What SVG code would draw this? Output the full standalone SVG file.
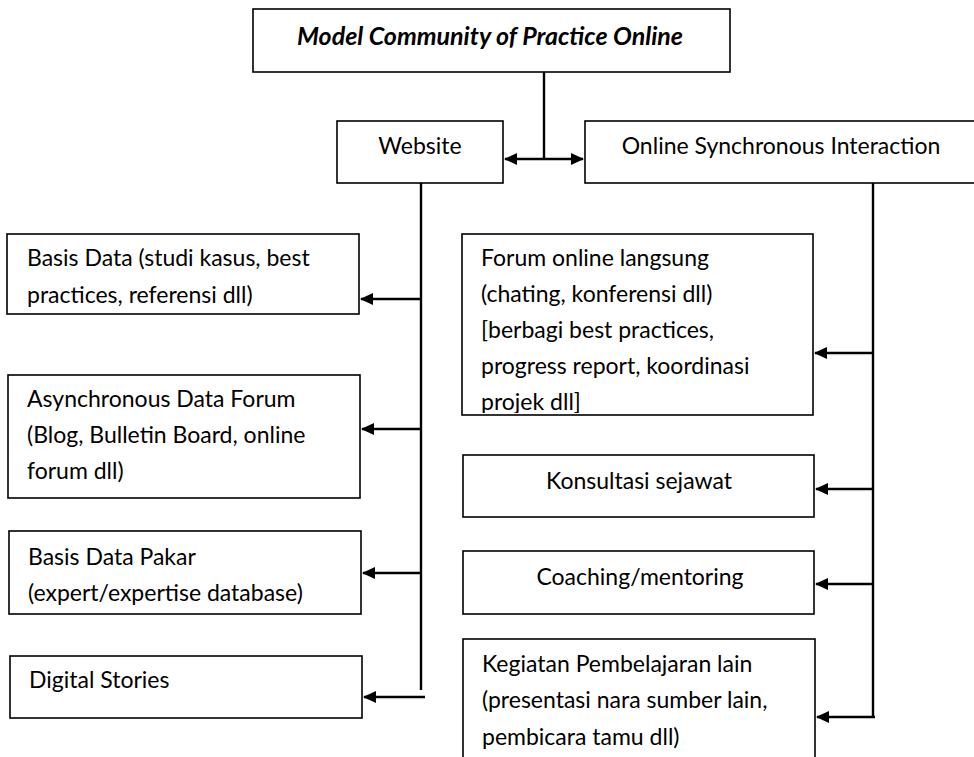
<svg xmlns="http://www.w3.org/2000/svg" width="974" height="757" viewBox="0 0 974 757">
<style>
.box{fill:#fff;stroke:#000;stroke-width:1.6}
.t{font-family:Lato,"Open Sans","Liberation Sans",sans-serif;font-size:23px;fill:#000}
.c{text-anchor:middle}
.title{font-weight:bold;font-style:italic;font-size:25px}
.ln{fill:none;stroke:#000;stroke-width:2.4}
</style>
<defs>
<marker id="ah" markerWidth="13" markerHeight="12" refX="12" refY="6" orient="auto" markerUnits="userSpaceOnUse">
<path d="M0,0 L13,6 L0,12 Z" fill="#000"/>
</marker>
<marker id="ahs" markerWidth="13" markerHeight="12" refX="1" refY="6" orient="auto" markerUnits="userSpaceOnUse">
<path d="M13,0 L0,6 L13,12 Z" fill="#000"/>
</marker>
<clipPath id="forumclip"><rect x="462" y="234" width="351" height="179"/></clipPath>
</defs>
<rect width="974" height="757" fill="#fff"/>

<g id="connectors">
<line class="ln" x1="544" y1="72" x2="544" y2="159"/>
<line class="ln" x1="505" y1="159" x2="583" y2="159" marker-start="url(#ahs)" marker-end="url(#ah)"/>
<line class="ln" x1="421" y1="183" x2="421" y2="690"/>
<line class="ln" x1="421" y1="299" x2="361" y2="299" marker-end="url(#ah)"/>
<line class="ln" x1="421" y1="429" x2="362" y2="429" marker-end="url(#ah)"/>
<line class="ln" x1="421" y1="573" x2="363" y2="573" marker-end="url(#ah)"/>
<line class="ln" x1="425" y1="697" x2="364" y2="697" marker-end="url(#ah)"/>
<line class="ln" x1="873" y1="183" x2="873" y2="717"/>
<line class="ln" x1="873" y1="353" x2="815" y2="353" marker-end="url(#ah)"/>
<line class="ln" x1="873" y1="489" x2="816" y2="489" marker-end="url(#ah)"/>
<line class="ln" x1="873" y1="584" x2="816" y2="584" marker-end="url(#ah)"/>
<line class="ln" x1="875" y1="717" x2="817" y2="717" marker-end="url(#ah)"/>
</g>

<g id="model">
<rect class="box" x="253" y="9" width="477" height="63"/>
<text class="t c title" x="490" y="45">Model Community of Practice Online</text>
</g>

<g id="website">
<rect class="box" x="337" y="121" width="166" height="62"/>
<text class="t c" x="420" y="154">Website</text>
</g>

<g id="osi">
<rect class="box" x="585" y="121" width="395" height="62"/>
<text class="t c" x="781" y="154">Online Synchronous Interaction</text>
</g>

<g id="basisdata">
<rect class="box" x="7" y="234" width="352" height="80"/>
<text class="t" x="27" y="266">Basis Data (studi kasus, best</text>
<text class="t" x="27" y="303">practices, referensi dll)</text>
</g>

<g id="async">
<rect class="box" x="8" y="375" width="352" height="123"/>
<text class="t" x="27" y="407">Asynchronous Data Forum</text>
<text class="t" x="27" y="443">(Blog, Bulletin Board, online</text>
<text class="t" x="27" y="479">forum dll)</text>
</g>

<g id="pakar">
<rect class="box" x="9" y="531" width="352" height="83"/>
<text class="t" x="28" y="565">Basis Data Pakar</text>
<text class="t" x="28" y="601">(expert/expertise database)</text>
</g>

<g id="digital">
<rect class="box" x="10" y="656" width="352" height="62"/>
<text class="t" x="29" y="688">Digital Stories</text>
</g>

<g id="forum">
<rect class="box" x="462" y="234" width="351" height="181"/>
<g clip-path="url(#forumclip)">
<text class="t" x="481" y="266">Forum online langsung</text>
<text class="t" x="481" y="302">(chating, konferensi dll)</text>
<text class="t" x="481" y="338">[berbagi best practices,</text>
<text class="t" x="481" y="374">progress report, koordinasi</text>
<text class="t" x="481" y="410">projek dll]</text>
</g>
</g>

<g id="konsultasi">
<rect class="box" x="463" y="455" width="351" height="62"/>
<text class="t c" x="639" y="489">Konsultasi sejawat</text>
</g>

<g id="coaching">
<rect class="box" x="463" y="551" width="351" height="63"/>
<text class="t c" x="640" y="585">Coaching/mentoring</text>
</g>

<g id="kegiatan">
<rect class="box" x="463" y="639" width="352" height="130"/>
<text class="t" x="482" y="672">Kegiatan Pembelajaran lain</text>
<text class="t" x="482" y="708">(presentasi nara sumber lain,</text>
<text class="t" x="482" y="745">pembicara tamu dll)</text>
</g>
</svg>
